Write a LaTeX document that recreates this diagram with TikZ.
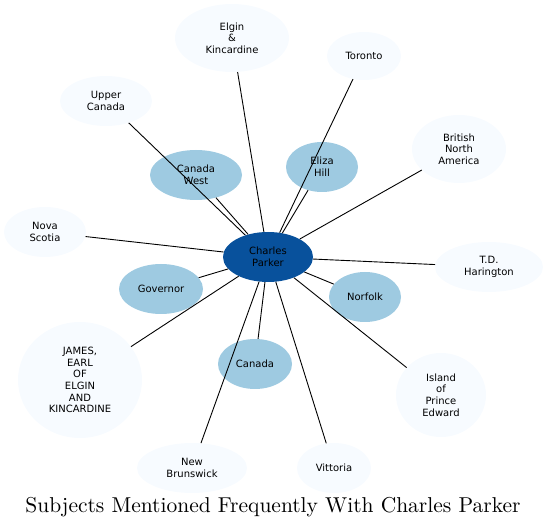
\documentclass[tikz,border=0pt]{standalone}
\usepackage{fontspec}
\usetikzlibrary{shapes.geometric}
\newfontfamily\nodefont{DejaVu Sans}
\newfontfamily\titlefont{lmroman10-regular.otf}
\definecolor{cphub}{HTML}{08519C}
\definecolor{cpmid}{HTML}{9ECAE1}
\definecolor{cpouter}{HTML}{F7FBFF}

\tikzset{
  subject/.style={ellipse, inner sep=0pt, align=center, text=black,
    font=\nodefont\fontsize{10}{11.7}\selectfont},
  hub/.style={subject, fill=cphub, minimum width=90pt, minimum height=50pt},
  near/.style={subject, fill=cpmid},
  far/.style={subject, fill=cpouter},
  link/.style={black, line width=0.9pt}
}

\begin{document}
\begin{tikzpicture}[x=1pt, y=-1pt]
      \useasboundingbox (0,0) rectangle (547,529);

      % Main person
      \node[hub] (parker) at (268,257) {Charles\\Parker};

      % Frequent subjects
      \node[near, minimum width=92pt, minimum height=50pt] (cwest) at (196,175) {Canada\\West};
      \node[near, minimum width=72pt, minimum height=50pt] (eliza) at (322,167) {Eliza\\Hill};
      \node[near, minimum width=84pt, minimum height=50pt] (governor) at (161,289) {Governor};
      \node[near, minimum width=72pt, minimum height=50pt] (norfolk) at (365,297) {Norfolk};
      \node[near, minimum width=74pt, minimum height=50pt] (canada) at (255,364) {Canada};

      % Less frequent subjects
      \node[far, minimum width=114pt, minimum height=68pt] (elgin) at (232,38) {Elgin\\\&\\Kincardine};
      \node[far, minimum width=74pt, minimum height=48pt] (toronto) at (364,56) {Toronto};
      \node[far, minimum width=92pt, minimum height=50pt] (upper) at (106,101) {Upper\\Canada};
      \node[far, minimum width=94pt, minimum height=68pt] (bna) at (459,149) {British\\North\\America};
      \node[far, minimum width=82pt, minimum height=50pt] (nova) at (45,232) {Nova\\Scotia};
      \node[far, minimum width=108pt, minimum height=50pt] (harington) at (489,267) {T.D.\\Harington};
      \node[far, minimum width=124pt, minimum height=116pt] (james) at (80,380) {JAMES,\\EARL\\OF\\ELGIN\\AND\\KINCARDINE};
      \node[far, minimum width=90pt, minimum height=84pt] (island) at (441,395) {Island\\of\\Prince\\Edward};
      \node[far, minimum width=110pt, minimum height=50pt] (brunswick) at (192,468) {New\\Brunswick};
      \node[far, minimum width=74pt, minimum height=50pt] (vittoria) at (334,468) {Vittoria};

      % Links
      \draw[link] (parker) -- (cwest);
      \draw[link] (parker) -- (eliza);
      \draw[link] (parker) -- (governor);
      \draw[link] (parker) -- (norfolk);
      \draw[link] (parker) -- (canada);
      \draw[link] (parker) -- (elgin);
      \draw[link] (parker) -- (toronto);
      \draw[link] (parker) -- (upper);
      \draw[link] (parker) -- (bna);
      \draw[link] (parker) -- (nova);
      \draw[link] (parker) -- (harington);
      \draw[link] (parker) -- (james);
      \draw[link] (parker) -- (island);
      \draw[link] (parker) -- (brunswick);
      \draw[link] (parker) -- (vittoria);

      % Title
      \node[font=\titlefont\fontsize{21.5}{24}\selectfont] (title) at (273,507) {Subjects Mentioned Frequently With Charles Parker};
    \end{tikzpicture}
\end{document}
